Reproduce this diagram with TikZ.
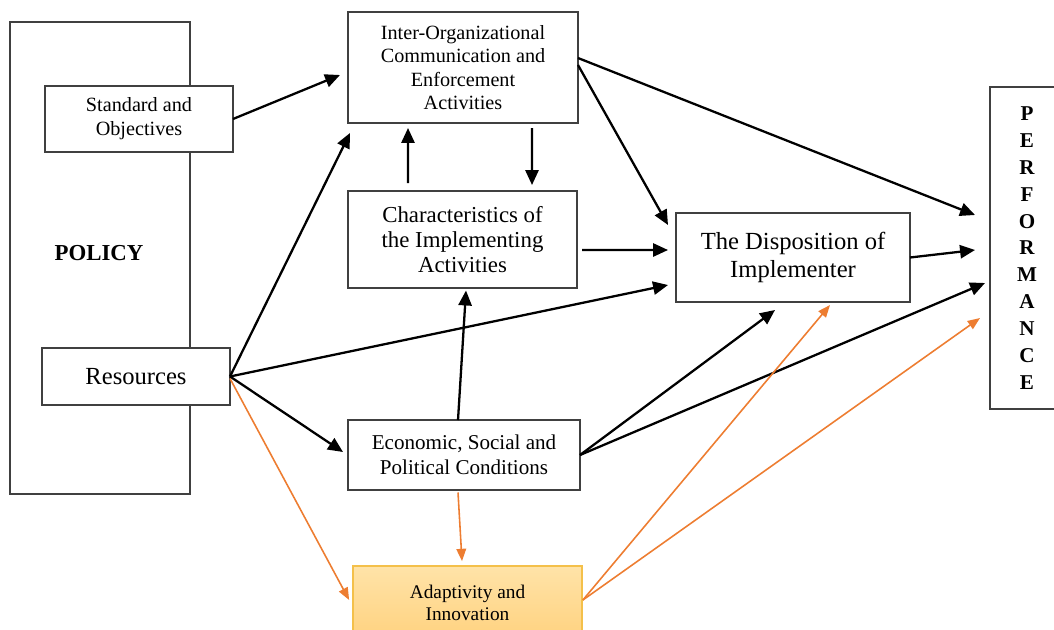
\documentclass[tikz,border=0pt]{standalone}
\usepackage{fontspec}
\setmainfont{Liberation Serif}
\usepackage{tikz}
\usetikzlibrary{positioning,arrows.meta,calc}
\usepackage{xcolor}
\definecolor{boxline}{HTML}{404040}
\definecolor{arrorange}{HTML}{ED7D31}
\definecolor{adapttop}{HTML}{FFE3A8}
\definecolor{adaptbot}{HTML}{FFD27F}
\definecolor{adaptline}{HTML}{F4C04A}

\begin{document}
\begin{tikzpicture}[
    box/.style={draw=boxline, line width=1pt, fill=white, align=center, inner sep=0pt, outer sep=0pt},
    arr/.style={-{Triangle[length=8.5pt,width=7.5pt]}, line width=1.3pt},
    oarr/.style={-{Triangle[length=7pt,width=5.5pt]}, draw=arrorange, line width=0.9pt}
]
\useasboundingbox (0,0) rectangle (21.08,-12.58);

% Policy column
\node[box, minimum width=3.6cm, minimum height=9.44cm] (policy) at (2.0,-5.16) {};
\node[font=\fontsize{13}{15}\selectfont\bfseries] (policylbl) at (1.98,-5.06) {POLICY};
\node[box, minimum width=3.76cm, minimum height=1.32cm, font=\fontsize{11.5}{13.6}\selectfont] (standard) at (2.78,-2.38) {Standard and\\Objectives};
\node[box, minimum width=3.76cm, minimum height=1.14cm, font=\fontsize{14}{16}\selectfont] (resources) at (2.72,-7.53) {Resources};

% Middle column
\node[box, minimum width=4.6cm, minimum height=2.22cm, font=\fontsize{11.5}{13.3}\selectfont] (interorg) at (9.26,-1.35) {Inter-Organizational\\Communication and\\Enforcement\\Activities};
\node[box, minimum width=4.58cm, minimum height=1.94cm, font=\fontsize{13}{14.2}\selectfont] (charact) at (9.25,-4.79) {Characteristics of\\the Implementing\\Activities};
\node[box, minimum width=4.64cm, minimum height=1.4cm, font=\fontsize{12}{14.2}\selectfont] (econ) at (9.28,-9.1) {Economic, Social and\\Political Conditions};
\node[draw=adaptline, line width=1pt, top color=adapttop, bottom color=adaptbot, align=center, inner sep=0pt, minimum width=4.58cm, minimum height=1.48cm, font=\fontsize{11}{12.5}\selectfont] (adapt) at (9.35,-12.06) {Adaptivity and\\Innovation};

% Right side
\node[box, minimum width=4.68cm, minimum height=1.78cm, font=\fontsize{14}{15.9}\selectfont] (dispo) at (15.86,-5.15) {The Disposition of\\Implementer};
\node[box, minimum width=1.48cm, minimum height=6.44cm, font=\fontsize{12}{15.3}\selectfont\bfseries] (perform) at (20.54,-4.96) {P\\E\\R\\F\\O\\R\\M\\A\\N\\C\\E};

% Black arrows
\draw[arr] (standard.east) -- ($(interorg.west)+(-0.16,-0.15)$);
\draw[arr] (resources.east) -- ($(interorg.south west)+(0.04,-0.2)$);
\draw[arr] ($(charact.north)+(-1.09,0.16)$) -- ($(interorg.south)+(-1.1,-0.1)$);
\draw[arr] ($(interorg.south)+(1.38,-0.1)$) -- ($(charact.north)+(1.39,0.12)$);
\draw[arr] ($(interorg.east)+(0,0.19)$) -- ($(perform.west)+(-0.3,0.66)$);
\draw[arr] ($(interorg.east)+(0,0.05)$) -- ($(dispo.north west)+(-0.16,-0.24)$);
\draw[arr] ($(charact.east)+(0.1,-0.21)$) -- ($(dispo.west)+(-0.16,0.15)$);
\draw[arr] (resources.east) -- ($(dispo.west)+(-0.16,-0.55)$);
\draw[arr] (resources.east) -- ($(econ.west)+(-0.1,0.06)$);
\draw[arr] ($(econ.north)+(-0.12,0)$) -- ($(charact.south)+(0.07,-0.05)$);
\draw[arr] (econ.east) -- ($(dispo.south)+(-0.36,-0.16)$);
\draw[arr] (econ.east) -- ($(perform.west)+(-0.1,-0.7)$);
\draw[arr] (dispo.east) -- ($(perform.west)+(-0.3,-0.04)$);

% Orange arrows
\draw[oarr] ($(resources.east)+(0,-0.04)$) -- ($(adapt.west)+(-0.06,0.06)$);
\draw[oarr] ($(econ.south)+(-0.12,-0.05)$) -- ($(adapt.north)+(-0.11,0.08)$);
\draw[oarr] ($(adapt.east)+(0,0.06)$) -- ($(dispo.south)+(0.74,-0.06)$);
\draw[oarr] ($(adapt.east)+(0,0.06)$) -- ($(perform.west)+(-0.2,-1.4)$);

\end{tikzpicture}
\end{document}
